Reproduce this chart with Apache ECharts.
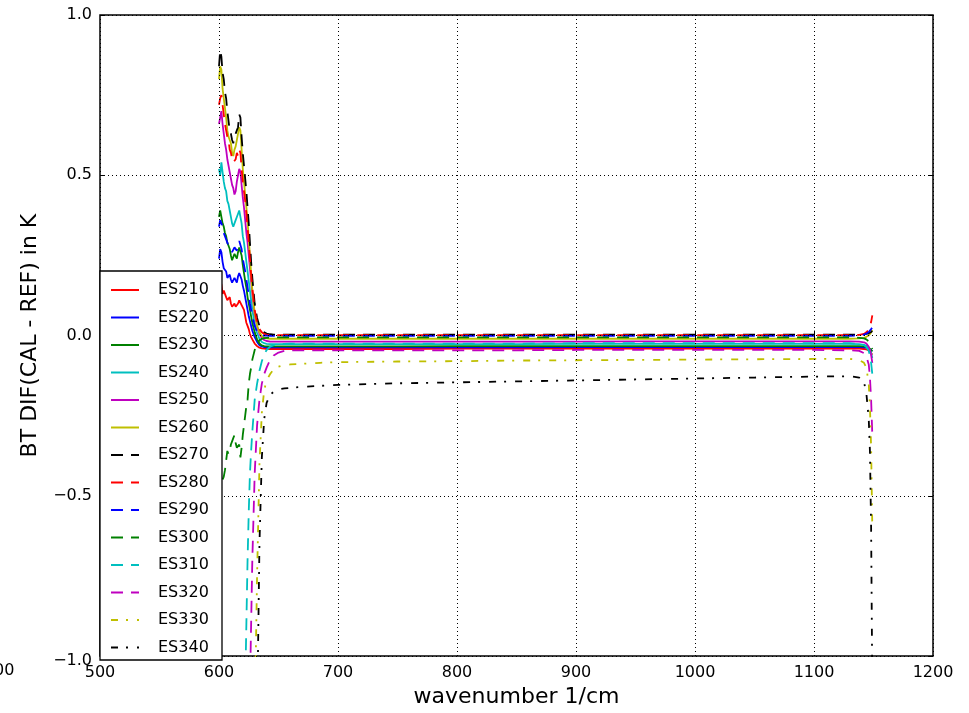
<!DOCTYPE html>
<html>
<head>
<meta charset="utf-8">
<script src="https://cdn.jsdelivr.net/npm/echarts@6/dist/echarts.min.js"></script>
<style>
  html, body { margin: 0; padding: 0; background: #fff; }
  #chart { width: 969px; height: 713px; }
</style>
</head>
<body>
<div id="chart"></div>
<script>
// Wavenumber grid (1/cm) shared by all series
const wavenumbers = [
  600, 601, 602, 603, 604, 605, 606, 607, 608, 609, 610, 611, 612, 613, 614,
  615, 616, 617, 618, 619, 620, 621, 622, 623, 624, 625, 626, 627, 628,
  630, 632, 634, 636,
  638, 640, 643, 646, 650, 655, 660, 670, 685, 700,
  750, 800, 850, 900, 950, 1000, 1050, 1100,
  1130, 1138, 1142, 1144, 1146, 1147, 1148, 1149
];

const seriesNames = ['ES210', 'ES220', 'ES230', 'ES240', 'ES250', 'ES260', 'ES270',
                     'ES280', 'ES290', 'ES300', 'ES310', 'ES320', 'ES330', 'ES340'];

// Brightness-temperature difference (K) per scene temperature
const es210 = [0.15, 0.17, 0.16, 0.13, 0.14, 0.135, 0.12, 0.11, 0.115, 0.12, 0.10, 0.09, 0.095, 0.10, 0.09,
  0.085, 0.10, 0.11, 0.107, 0.095, 0.09, 0.08, 0.06, 0.04, 0.03, 0.02, 0.005, -0.005, -0.012,
  -0.025, -0.033, -0.038, -0.040,
  -0.041, -0.042, -0.042, -0.042, -0.042, -0.042, -0.042, -0.042, -0.042, -0.042,
  -0.042, -0.041, -0.041, -0.041, -0.041, -0.041, -0.041, -0.041,
  -0.041, -0.041, -0.042, -0.043, -0.046, -0.049, -0.054, -0.060];
const es220 = [0.24, 0.27, 0.26, 0.23, 0.21, 0.21, 0.20, 0.18, 0.185, 0.19, 0.175, 0.165, 0.17, 0.18, 0.175,
  0.165, 0.185, 0.195, 0.19, 0.175, 0.155, 0.14, 0.12, 0.10, 0.08, 0.06, 0.045, 0.03, 0.015,
  -0.005, -0.02, -0.03, -0.034,
  -0.036, -0.037, -0.037, -0.037, -0.037, -0.037, -0.037, -0.037, -0.037, -0.037,
  -0.037, -0.037, -0.037, -0.036, -0.036, -0.036, -0.036, -0.036,
  -0.036, -0.036, -0.037, -0.038, -0.040, -0.042, -0.045, -0.048];
const es230 = [0.37, 0.39, 0.385, 0.35, 0.34, 0.32, 0.31, 0.29, 0.28, 0.27, 0.25, 0.235, 0.24, 0.255, 0.25,
  0.24, 0.26, 0.275, 0.27, 0.25, 0.22, 0.195, 0.17, 0.15, 0.12, 0.10, 0.08, 0.06, 0.04,
  0.01, -0.012, -0.025, -0.031,
  -0.033, -0.034, -0.034, -0.034, -0.034, -0.034, -0.034, -0.034, -0.034, -0.034,
  -0.034, -0.033, -0.033, -0.033, -0.033, -0.033, -0.033, -0.033,
  -0.033, -0.033, -0.034, -0.035, -0.038, -0.041, -0.045, -0.050];
const es240 = [0.52, 0.50, 0.54, 0.51, 0.48, 0.46, 0.45, 0.42, 0.41, 0.39, 0.37, 0.35, 0.34, 0.35, 0.36,
  0.37, 0.38, 0.39, 0.385, 0.35, 0.31, 0.29, 0.26, 0.23, 0.20, 0.17, 0.14, 0.11, 0.08,
  0.035, 0.008, -0.01, -0.02,
  -0.024, -0.026, -0.027, -0.027, -0.027, -0.027, -0.027, -0.027, -0.027, -0.027,
  -0.027, -0.027, -0.027, -0.026, -0.026, -0.026, -0.026, -0.026,
  -0.026, -0.027, -0.029, -0.032, -0.038, -0.045, -0.055, -0.070];
const es250 = [0.66, 0.68, 0.70, 0.66, 0.63, 0.60, 0.58, 0.55, 0.53, 0.51, 0.49, 0.47, 0.46, 0.44, 0.45,
  0.48, 0.50, 0.52, 0.51, 0.47, 0.43, 0.40, 0.36, 0.32, 0.29, 0.25, 0.21, 0.17, 0.13,
  0.065, 0.03, 0.005, -0.008,
  -0.014, -0.017, -0.019, -0.019, -0.019, -0.019, -0.019, -0.019, -0.019, -0.019,
  -0.019, -0.019, -0.019, -0.019, -0.018, -0.018, -0.018, -0.018,
  -0.018, -0.019, -0.021, -0.025, -0.035, -0.045, -0.060, -0.085];
const es260 = [0.80, 0.84, 0.83, 0.77, 0.74, 0.71, 0.68, 0.64, 0.62, 0.61, 0.60, 0.57, 0.56, 0.58, 0.59,
  0.61, 0.63, 0.65, 0.64, 0.58, 0.52, 0.48, 0.44, 0.40, 0.36, 0.30, 0.25, 0.19, 0.14,
  0.07, 0.03, 0.01, -0.002,
  -0.007, -0.009, -0.01, -0.01, -0.01, -0.01, -0.01, -0.01, -0.01, -0.01,
  -0.01, -0.01, -0.01, -0.01, -0.01, -0.01, -0.01, -0.01,
  -0.01, -0.009, -0.007, -0.004, 0.0, 0.004, 0.010, 0.017];
const es270 = [0.84, 0.89, 0.87, 0.82, 0.80, 0.76, 0.74, 0.70, 0.67, 0.64, 0.63, 0.61, 0.60, 0.62, 0.63,
  0.64, 0.65, 0.69, 0.68, 0.62, 0.57, 0.53, 0.49, 0.45, 0.40, 0.35, 0.29, 0.23, 0.18,
  0.10, 0.055, 0.03, 0.017,
  0.01, 0.006, 0.004, 0.003, 0.003, 0.003, 0.003, 0.003, 0.003, 0.003,
  0.003, 0.003, 0.003, 0.003, 0.003, 0.003, 0.003, 0.003,
  0.003, 0.003, 0.004, 0.005, 0.007, 0.009, 0.011, 0.014];
const es280 = [0.72, 0.74, 0.75, 0.72, 0.69, 0.66, 0.64, 0.62, 0.61, 0.58, 0.57, 0.55, 0.54, 0.545, 0.55,
  0.57, 0.56, 0.58, 0.57, 0.52, 0.48, 0.45, 0.42, 0.38, 0.34, 0.29, 0.24, 0.19, 0.15,
  0.08, 0.04, 0.02, 0.01,
  0.005, 0.003, 0.002, 0.001, 0.001, 0.001, 0.001, 0.001, 0.001, 0.001,
  0.001, 0.001, 0.001, 0.001, 0.001, 0.001, 0.001, 0.001,
  0.001, 0.002, 0.005, 0.010, 0.018, 0.027, 0.042, 0.063];
const es290 = [0.34, 0.36, 0.36, 0.34, 0.32, 0.31, 0.30, 0.29, 0.28, 0.275, 0.27, 0.26, 0.265, 0.275, 0.27,
  0.265, 0.28, 0.295, 0.29, 0.27, 0.24, 0.22, 0.20, 0.175, 0.15, 0.125, 0.10, 0.08, 0.06,
  0.03, 0.012, 0.004, 0.001,
  0.0, 0.0, -0.001, -0.001, -0.001, -0.001, -0.001, -0.001, -0.001, -0.001,
  -0.001, -0.001, -0.001, -0.001, -0.001, -0.001, -0.001, -0.001,
  -0.001, 0.0, 0.003, 0.006, 0.011, 0.015, 0.020, 0.025];
const es300 = [-0.49, -0.50, -0.47, -0.45, -0.44, -0.42, -0.39, -0.36, -0.37, -0.36, -0.34, -0.33, -0.32, -0.31, -0.335,
  -0.35, -0.355, -0.34, -0.38, -0.35, -0.31, -0.28, -0.25, -0.22, -0.20, -0.15, -0.12, -0.10, -0.075,
  -0.045, -0.025, -0.015, -0.01,
  -0.008, -0.007, -0.006, -0.006, -0.006, -0.006, -0.006, -0.006, -0.006, -0.006,
  -0.006, -0.006, -0.006, -0.006, -0.006, -0.006, -0.006, -0.006,
  -0.006, -0.007, -0.009, -0.012, -0.018, -0.024, -0.032, -0.042];
const es310 = [-5, -5, -5, -5, -5, -5, -5, -5, -5, -5, -5, -5, -4, -3.5, -3,
  -2.7, -2.5, -2.2, -2.0, -1.8, -1.6, -1.35, -1.1, -0.9, -0.7, -0.55, -0.43, -0.36, -0.3,
  -0.2, -0.15, -0.11, -0.08,
  -0.06, -0.045, -0.035, -0.03, -0.027, -0.026, -0.025, -0.025, -0.025, -0.025,
  -0.025, -0.025, -0.025, -0.024, -0.024, -0.024, -0.024, -0.024,
  -0.024, -0.026, -0.030, -0.036, -0.048, -0.062, -0.085, -0.12];
const es320 = [-5, -5, -5, -5, -5, -5, -5, -5, -5, -5, -5, -5, -5, -5, -4.5,
  -4.2, -4, -3.7, -3.5, -3.2, -3, -2.6, -2.2, -1.9, -1.6, -1.35, -1.1, -0.9, -0.7,
  -0.43, -0.28, -0.2, -0.15,
  -0.12, -0.1, -0.075, -0.062, -0.053, -0.048, -0.046, -0.046, -0.046, -0.046,
  -0.046, -0.046, -0.046, -0.045, -0.045, -0.045, -0.045, -0.045,
  -0.046, -0.048, -0.055, -0.065, -0.09, -0.13, -0.2, -0.31];
const es330 = [-5, -5, -5, -5, -5, -5, -5, -5, -5, -5, -5, -5, -5, -5, -5,
  -5, -5, -5, -5, -5, -5, -4.5, -4, -3.6, -3.2, -2.8, -2.5, -2.1, -1.8,
  -1.2, -0.75, -0.4, -0.24,
  -0.17, -0.14, -0.12, -0.105, -0.097, -0.092, -0.09, -0.088, -0.085, -0.083,
  -0.081, -0.08, -0.078, -0.077, -0.076, -0.075, -0.074, -0.073,
  -0.073, -0.076, -0.085, -0.1, -0.15, -0.22, -0.35, -0.6];
const es340 = [-5, -5, -5, -5, -5, -5, -5, -5, -5, -5, -5, -5, -5, -5, -5,
  -5, -5, -5, -5, -5, -5, -5, -5, -5, -5, -5, -4, -3.5, -3,
  -2.0, -1.2, -0.65, -0.38,
  -0.26, -0.21, -0.185, -0.175, -0.168, -0.165, -0.163, -0.16, -0.157, -0.154,
  -0.149, -0.146, -0.143, -0.14, -0.137, -0.134, -0.131, -0.128,
  -0.127, -0.131, -0.145, -0.18, -0.26, -0.36, -0.6, -1.1];

const seriesValues = [es210, es220, es230, es240, es250, es260, es270,
                      es280, es290, es300, es310, es320, es330, es340];

const xTicks = [500, 600, 700, 800, 900, 1000, 1100, 1200];
const yTicks = [-1.0, -0.5, 0.0, 0.5, 1.0];

// matplotlib-style colours and line styles
const colors = ['#ff0000', '#0000ff', '#008000', '#00bfbf', '#bf00bf', '#bfbf00', '#000000',
                '#ff0000', '#0000ff', '#008000', '#00bfbf', '#bf00bf', '#bfbf00', '#000000'];
const DASHED = [12, 8];
const DASHDOT = [7, 8, 2, 9];
const styles = ['solid', 'solid', 'solid', 'solid', 'solid', 'solid',
                DASHED, DASHED, DASHED, DASHED, DASHED, DASHED, DASHDOT, DASHDOT];

const FONT = 'DejaVu Sans';
// Tick text with a true minus sign; the bottom label sits a little lower
const fmtY = v => {
  const s = (v < 0 ? '\u2212' : '') + Math.abs(v).toFixed(1);
  return v === yTicks[0] ? '{lo|' + s + '}' : s;
};
const fmtX = v => String(v);

const chart = echarts.init(document.getElementById('chart'), null, { renderer: 'canvas' });

const series = seriesNames.map((name, i) => ({
  name,
  type: 'line',
  data: wavenumbers.map((w, k) => [w, seriesValues[i][k]]),
  symbol: 'none',
  showSymbol: false,
  clip: true,
  smooth: false,
  lineStyle: { color: colors[i], width: 1.8, type: styles[i] },
  itemStyle: { color: colors[i] },
  emphasis: { disabled: true },
  z: 2
}));

const gridLine = { show: true, lineStyle: { color: '#000', width: 1, type: [1, 3] } };

chart.setOption({
  animation: false,
  backgroundColor: '#fff',
  textStyle: { fontFamily: FONT },
  grid: { left: 100, right: 36, top: 15, bottom: 53, show: true, borderColor: '#000', borderWidth: 1.5, backgroundColor: 'transparent' },
  xAxis: [{
    type: 'value', min: xTicks[0], max: xTicks[xTicks.length - 1], interval: 100,
    position: 'bottom', z: 3,
    name: 'wavenumber 1/cm', nameLocation: 'middle', nameGap: 28,
    nameTextStyle: { fontSize: 22, color: '#000', fontFamily: FONT },
    axisLine: { show: false },
    axisTick: { show: true, inside: true, length: 5, lineStyle: { color: '#000', width: 1 } },
    axisLabel: { fontSize: 16, color: '#000', margin: 9, fontFamily: FONT, formatter: fmtX },
    splitLine: gridLine
  }, {
    type: 'value', min: xTicks[0], max: xTicks[xTicks.length - 1], interval: 100,
    position: 'top', z: 3,
    axisLine: { show: false },
    axisTick: { show: true, inside: true, length: 5, lineStyle: { color: '#000', width: 1 } },
    axisLabel: { show: false },
    splitLine: { show: false }
  }],
  yAxis: [{
    type: 'value', min: yTicks[0], max: yTicks[yTicks.length - 1], interval: 0.5,
    position: 'left', z: 3,
    name: 'BT DIF(CAL - REF) in K', nameLocation: 'middle', nameGap: 59, nameRotate: 90,
    nameTextStyle: { fontSize: 22, color: '#000', fontFamily: FONT },
    axisLine: { show: false },
    axisTick: { show: true, inside: true, length: 5, lineStyle: { color: '#000', width: 1 } },
    axisLabel: {
      fontSize: 16, color: '#000', margin: 8, fontFamily: FONT, formatter: fmtY,
      rich: { lo: { fontSize: 16, color: '#000', fontFamily: FONT, padding: [10, 0, 0, 0] } }
    },
    splitLine: gridLine
  }, {
    type: 'value', min: yTicks[0], max: yTicks[yTicks.length - 1], interval: 0.5,
    position: 'right', z: 3,
    axisLine: { show: false },
    axisTick: { show: true, inside: true, length: 5, lineStyle: { color: '#000', width: 1 } },
    axisLabel: { show: false },
    splitLine: { show: false }
  }],
  legend: {
    orient: 'vertical',
    left: 100, top: 271,
    z: 101,
    padding: [11, 10, 6, 10],
    itemWidth: 28, itemHeight: 14, itemGap: 11.5,
    selectedMode: false,
    itemStyle: { opacity: 0 },
    textStyle: { fontSize: 16, color: '#000', fontFamily: FONT, padding: [0, 0, 0, 14] },
    data: seriesNames
  },
  graphic: [{
    type: 'rect', z: 100,
    shape: { x: 100, y: 271, width: 122, height: 389 },
    style: { fill: '#fff', stroke: '#000', lineWidth: 1.3 }
  }, {
    type: 'text', z: 100, left: -6, top: 663,
    style: { text: '00', font: '16px "DejaVu Sans"', fill: '#000' }
  }],
  series
});
</script>
</body>
</html>
